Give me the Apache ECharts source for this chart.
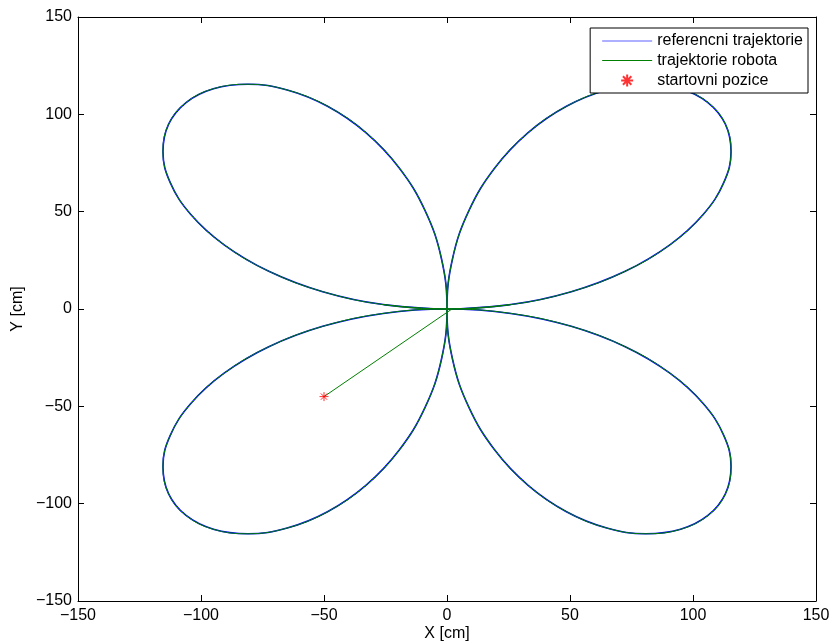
<!DOCTYPE html>
<html>
<head>
<meta charset="utf-8">
<script src="https://cdn.jsdelivr.net/npm/echarts@6/dist/echarts.min.js"></script>
<style>html,body{margin:0;padding:0;background:#fff;}#c{width:832px;height:643px;}</style>
</head>
<body>
<div id="c"></div>
<script>
// Reference trajectory (four-leaf rose)
const refX = [-25.95,0,25.95,50.52,72.44,90.60,104.14,112.50,115.46,113.16,106.07,94.95,80.85,64.95,48.56,32.98,19.41,8.91,2.27,
  0,2.27,8.91,19.41,32.98,48.56,64.95,80.85,94.95,106.07,113.16,115.46,112.50,104.14,90.60,72.44,50.52,25.95,
  0,-25.95,-50.52,-72.44,-90.60,-104.14,-112.50,-115.46,-113.16,-106.07,-94.95,-80.85,-64.95,-48.56,-32.98,-19.41,-8.91,-2.27,
  0,-2.27,-8.91,-19.41,-32.98,-48.56,-64.95,-80.85,-94.95,-106.07,-113.16,-115.46,-112.50,-104.14,-90.60,-72.44,-50.52,-25.95,
  0,25.95];
const refY = [2.27,0,2.27,8.91,19.41,32.98,48.56,64.95,80.85,94.95,106.07,113.16,115.46,112.50,104.14,90.60,72.44,50.52,25.95,
  0,-25.95,-50.52,-72.44,-90.60,-104.14,-112.50,-115.46,-113.16,-106.07,-94.95,-80.85,-64.95,-48.56,-32.98,-19.41,-8.91,-2.27,
  0,-2.27,-8.91,-19.41,-32.98,-48.56,-64.95,-80.85,-94.95,-106.07,-113.16,-115.46,-112.50,-104.14,-90.60,-72.44,-50.52,-25.95,
  0,25.95,50.52,72.44,90.60,104.14,112.50,115.46,113.16,106.07,94.95,80.85,64.95,48.56,32.98,19.41,8.91,2.27,
  0,2.27];
// Robot approach segment from the start position
const robotStartX = [-50, 2];
const robotStartY = [-45, 0];
const startX = [-50];
const startY = [-45];
const axisTicks = [-150,-100,-50,0,50,100,150];

const refPts = refX.map((x,i)=>[x, refY[i]]);
const robotApproach = robotStartX.map((x,i)=>[x, robotStartY[i]]);
const startPts = startX.map((x,i)=>[x, startY[i]]);

const font = 'Liberation Sans, Arial, Helvetica, sans-serif';
const fmt = v => String(v).replace('-', '\u2212');
const lineIcon = 'path://M0,5L50,5L50,6L0,6Z';
const starIcon = 'path://M5,0L5,10M0,5L10,5M1.5,1.5L8.5,8.5M1.5,8.5L8.5,1.5';
const mainAxis = (pos, name, gap, margin) => ({
  type:'value', position: pos, min: axisTicks[0], max: axisTicks[axisTicks.length-1], interval: 50,
  name: name, nameLocation:'middle', nameGap: gap, nameMoveOverlap:false,
  nameTextStyle:{color:'#000', fontSize:16, fontFamily:font},
  axisLine:{show:true, onZero:false, lineStyle:{color:'#000', width:1}},
  axisTick:{show:true, inside:true, length:6, lineStyle:{color:'#000'}},
  axisLabel:{show:true, color:'#000', fontSize:16, fontFamily:font, margin:margin, formatter: fmt},
  splitLine:{show:false}
});
const sideAxis = (pos) => ({
  type:'value', position: pos, min: axisTicks[0], max: axisTicks[axisTicks.length-1], interval: 50,
  axisLine:{show:true, onZero:false, lineStyle:{color:'#000', width:1}},
  axisTick:{show:true, inside:true, length:6, lineStyle:{color:'#000'}},
  axisLabel:{show:false}, splitLine:{show:false}
});

const chart = echarts.init(document.getElementById('c'), null, {renderer:'canvas'});
chart.setOption({
  animation:false,
  backgroundColor:'#fff',
  grid:{left:78, right:16, top:17, bottom:42, containLabel:false, outerBoundsMode:'none'},
  xAxis:[mainAxis('bottom','X [cm]',25,7), sideAxis('top')],
  yAxis:[mainAxis('left','Y [cm]',52,6), sideAxis('right')],
  legend:{
    orient:'vertical', right:24, top:28,
    backgroundColor:'#fff', borderColor:'#000', borderWidth:1, borderRadius:0,
    padding:[5,5,4,12], itemGap:3.5, itemWidth:50, itemHeight:12,
    textStyle:{color:'#000', fontSize:16, fontFamily:font, lineHeight:16},
    data:[
      {name:'referencni trajektorie', icon: lineIcon},
      {name:'trajektorie robota', icon: lineIcon},
      {name:'startovni pozice', icon: starIcon}
    ]
  },
  series:[
    {name:'referencni trajektorie', type:'line', data:refPts, smooth:0.4, showSymbol:false, symbol:'none',
     lineStyle:{color:'#0000ff', width:1.6}, itemStyle:{color:'#6060ff'}, z:2},
    {name:'trajektorie robota', type:'line', data:refPts, smooth:0.4, showSymbol:false, symbol:'none',
     lineStyle:{color:'#008000', width:1}, itemStyle:{color:'#008000'}, z:3},
    {name:'trajektorie robota', type:'line', data:robotApproach, showSymbol:false, symbol:'none',
     lineStyle:{color:'#008000', width:1}, itemStyle:{color:'#008000'}, z:3},
    {name:'startovni pozice', type:'scatter', data:startPts,
     symbol:starIcon, symbolSize:9,
     itemStyle:{color:'none', borderColor:'#ff0000', borderWidth:1}, z:4}
  ]
});
</script>
</body>
</html>
